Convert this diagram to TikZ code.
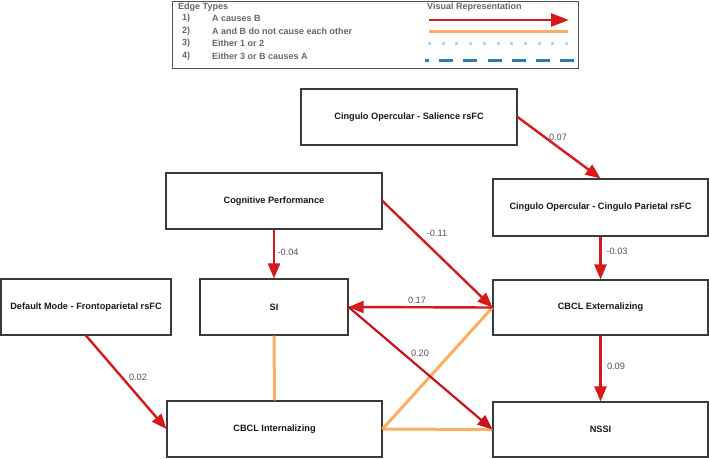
\documentclass[tikz,border=0pt]{standalone}
\usepackage{fontspec}
\setmainfont{Liberation Sans}
\usetikzlibrary{arrows.meta}
\definecolor{cred}{HTML}{D7191C}
\definecolor{cdred}{HTML}{C4141F}
\definecolor{corange}{HTML}{FDAE61}
\definecolor{clblue}{HTML}{ABD9E9}
\definecolor{cblue}{HTML}{2C7BB6}
\definecolor{cgray}{HTML}{555555}
\definecolor{clgray}{HTML}{666666}
\definecolor{cbox}{HTML}{3A3A3A}
\tikzset{
  varbox/.style={draw=cbox, line width=1.1pt, fill=white, rectangle, inner sep=0pt,
    font=\fontsize{9.2}{11}\selectfont\bfseries, text=black!90},
  causes/.style={draw=cred, line width=2.4pt, -{Triangle[length=15pt,width=12pt]}},
  causesd/.style={draw=cdred, line width=2.2pt, -{Triangle[length=15pt,width=12pt]}},
  nocause/.style={draw=corange, line width=3pt},
  wlabel/.style={font=\fontsize{9.2}{11}\selectfont, text=cgray, inner sep=0pt},
  legtext/.style={font=\fontsize{9}{11}\selectfont\bfseries, text=clgray, inner sep=0pt, anchor=west},
}
\begin{document}
\begin{tikzpicture}[x=1pt,y=-1pt]
\useasboundingbox (0,0) rectangle (709,458);
% legend
\node[draw=cgray, line width=1pt, minimum width=406pt, minimum height=67pt, inner sep=0pt] (legend) at (375,34.5) {};
\node[legtext] (lt) at (178,7.5) {Edge Types};
\node[legtext] (lv) at (427,7.5) {Visual Representation};
\node[legtext] (n1) at (182,18) {1)};
\node[legtext] (t1) at (212,18) {A causes B};
\node[legtext] (n2) at (182,31) {2)};
\node[legtext] (t2) at (212,31) {A and B do not cause each other};
\node[legtext] (n3) at (182,43.5) {3)};
\node[legtext] (t3) at (212,43.5) {Either 1 or 2};
\node[legtext] (n4) at (182,56) {4)};
\node[legtext] (t4) at (212,56) {Either 3 or B causes A};
\coordinate (l1a) at (429,20);
\coordinate (l1b) at (569,20);
\coordinate (l2a) at (429,31);
\coordinate (l2b) at (568,31);
\coordinate (l3a) at (428,43);
\coordinate (l3b) at (571,43);
\coordinate (l4a) at (425,60);
\coordinate (l4b) at (574,60);
\draw[draw=cred, line width=2.6pt, -{Triangle[length=18pt,width=13pt]}] (l1a) -- (l1b);
\draw[nocause] (l2a) -- (l2b);
\draw[draw=clblue, line width=3pt, dash pattern=on 3pt off 10.7pt] (l3a) -- (l3b);
\draw[draw=cblue, line width=3pt, dash pattern=on 14pt off 10.2pt, dash phase=10pt] (l4a) -- (l4b);

% boxes
\node[varbox, minimum width=216pt, minimum height=56pt] (sal) at (409,117) {Cingulo Opercular - Salience rsFC};
\node[varbox, minimum width=215pt, minimum height=57pt] (cp) at (600.5,207.5) {Cingulo Opercular - Cingulo Parietal rsFC};
\node[varbox, minimum width=216pt, minimum height=56pt] (cog) at (274,201) {Cognitive Performance};
\node[varbox, minimum width=170pt, minimum height=56pt] (dm) at (86,307) {Default Mode - Frontoparietal rsFC};
\node[varbox, minimum width=148pt, minimum height=56pt] (si) at (274,307) {SI};
\node[varbox, minimum width=215pt, minimum height=55pt] (ext) at (600.5,307.5) {CBCL Externalizing};
\node[varbox, minimum width=215pt, minimum height=56pt] (int) at (274.5,429) {CBCL Internalizing};
\node[varbox, minimum width=215pt, minimum height=55pt] (nssi) at (600.5,429.5) {NSSI};

% edges
\draw[nocause] (si.south) -- (int.north);
\draw[nocause] (int.east) -- (ext.west);
\draw[nocause] (int.east) -- (nssi.west);
\draw[causes] (sal.east) -- (cp.north);
\draw[causes] (cp.south) -- (ext.north);
\draw[causes] (cog.south) -- (si.north);
\draw[causes] (cog.east) -- (ext.west);
\draw[causes] (dm.south) -- (int.west);
\draw[causes] (ext.west) -- (si.east);
\draw[causes] (ext.south) -- (nssi.north);
\draw[causesd] (si.east) -- (nssi.west);

% labels
\node[wlabel] (w1) at (558,137) {0.07};
\node[wlabel] (w2) at (617,251) {-0.03};
\node[wlabel] (w3) at (288,252) {-0.04};
\node[wlabel] (w4) at (437,233) {-0.11};
\node[wlabel] (w5) at (417,300) {0.17};
\node[wlabel] (w6) at (420,353) {0.20};
\node[wlabel] (w7) at (616,366) {0.09};
\node[wlabel] (w8) at (138,377) {0.02};
\end{tikzpicture}
\end{document}
